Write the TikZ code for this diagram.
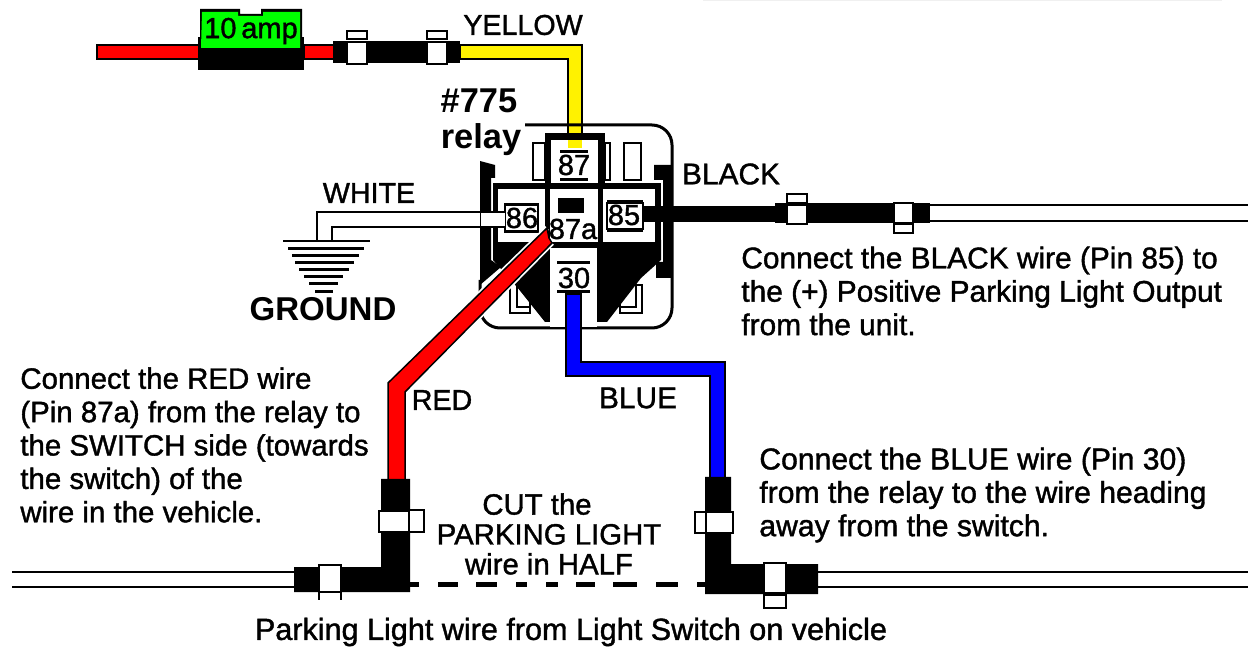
\documentclass[tikz,border=0pt]{standalone}
\usepackage{fontspec}
\setmainfont{Liberation Sans}
\newfontfamily\wirefont[FakeBold=1.3]{Liberation Sans}
\usetikzlibrary{calc}
\def\crimpbox(#1,#2)(#3,#4){\draw[fill=white,line width=0.4mm] (#1,#2) rectangle (#3,#4);}
\def\pinbars(#1,#2)(#3,#4){\draw[fill=black,draw=none] (#1,#2) rectangle (#3,#2+3); \draw[fill=black,draw=none] (#1,#4-3) rectangle (#3,#4);}
\tikzset{
	wiretext/.style={font=\wirefont\fontsize{17}{19}\selectfont,inner sep=0pt},
	smalltext/.style={font=\wirefont\fontsize{16.3}{19}\selectfont,inner sep=0pt},
	notetext/.style={wiretext,align=left,anchor=west},
	pintext/.style={font=\wirefont\fontsize{16.5}{19}\selectfont,inner sep=0pt},
	heavytext/.style={font=\fontsize{19.6}{19}\selectfont\bfseries,inner sep=0pt},
}

\begin{document}
\begin{tikzpicture}[x=0.02cm,y=-0.02cm]
			\useasboundingbox (0,0) rectangle (1248,648);
			\draw[black!6,line width=0.3mm] (703,0.5) -- (1222,0.5);
			%%%%% FUSE LINE %%%%%
			\draw[fill=red,line width=0.3mm] (97,45) rectangle (200,59);
			\draw[fill=red,line width=0.3mm] (304,45) rectangle (335,59);
			\fill (198,37) rectangle (304,70);
			\fill (200,9) -- (240,9) -- (240,14) -- (261,14) -- (261,9) -- (302,9) -- (302,40) -- (200,40) -- cycle;
			\fill[green] (202,12) -- (238,12) -- (238,16) -- (263,16) -- (263,12) -- (300,12) -- (300,48) -- (201,48) -- cycle;
			\node[pintext,font=\wirefont\fontsize{16.5}{19}\selectfont] (fuselabel) at (251,31) {10\,amp};
			\fill (333,41) rectangle (460,63);
			\crimpbox(347,42)(367,64)
			\crimpbox(347,31)(367,39)
			\crimpbox(427,42)(447,64)
			\crimpbox(427,31)(447,39)
			\draw[fill=yellow,line width=0.3mm] (460,45) -- (582,45) -- (582,148) -- (568,148) -- (568,59) -- (460,59) -- cycle;

			%%%%% RELAY %%%%%
			\draw[line width=0.6mm,rounded corners=4mm] (525,125) -- (672,125) -- (672,328) -- (480,328) -- (480,280);
			\draw[line width=0.4mm] (533,143) rectangle (545,180);
			\draw[line width=0.4mm] (605,143) rectangle (610,180);
			\draw[line width=0.4mm] (624,143) rectangle (641,180);
			\fill (480,161) -- (495,165) -- (495,178) -- (491,178) -- (491,260) -- (501,267) -- (480,285) -- cycle;
			\fill (654,165) -- (672,165) -- (672,278) -- (656,278) -- (656,262) -- (663,262) -- (663,180) -- (654,180) -- cycle;
			\draw[line width=0.4mm] (510,283) rectangle (530,313);
			\draw[line width=0.4mm] (517,283) -- (517,307) -- (530,307);
			\draw[line width=0.4mm] (620,285) rectangle (642,313);
			\draw[line width=0.4mm] (636,285) -- (636,307) -- (620,307);
			\fill (545,133) rectangle (605,140);
			\fill (545,133) rectangle (551,183);
			\fill (598,133) rectangle (605,183);
			\fill (493,183) rectangle (661,189);
			\fill (493,183) rectangle (498,260);
			\fill (655,183) rectangle (661,260);
			\fill (493,240) -- (661,240) -- (661,260) -- (641,278) -- (607,322) -- (545,322) -- (517,287) -- (493,260) -- cycle;
			\fill (545,189) rectangle (550,242);
			\fill (598,189) rectangle (603,242);
			\fill[white] (551,140) rectangle (598,183);
			\fill[white] (498,189) rectangle (545,242);
			\fill[white] (603,189) rectangle (655,242);
			\fill[white] (550,189) rectangle (598,242);
			\fill[white] (550,248) rectangle (597,327);
			\fill (558,198) rectangle (584,213);

			\pinbars(560,150)(588,181)
			\node[pintext] (pin87) at (574,165) {87};
			\draw[fill=white,line width=0.4mm] (505,204) rectangle (538,232);
			\pinbars(505,203)(538,233)
			\node[pintext] (pin86) at (522,218) {86};
			\pinbars(607,200)(643,232)
			\draw[line width=0.4mm] (607,203) rectangle (643,229);
			\node[pintext] (pin85) at (624,215) {85};
			\node[pintext] (pin87a) at (573,229) {87a};
			\pinbars(557,261)(590,293)
			\node[pintext] (pin30) at (574,278) {30};
			\draw[fill=yellow,line width=0.3mm,draw=none] (568,140) rectangle (582,148);

			%%%%% WHITE WIRE AND GROUND %%%%%
			\draw[line width=0.4mm] (505,212) -- (317,212) -- (317,241);
			\draw[line width=0.4mm] (505,227) -- (332,227) -- (332,241);
			\fill[white] (480.5,213) rectangle (505,226);
			\fill (283,240) rectangle (370,242.5);
			\fill (288,247) rectangle (364,250);
			\fill (292,254) rectangle (359,257);
			\fill (295,261) rectangle (354,264);
			\fill (299,268) rectangle (349,271);
			\fill (304,275.5) rectangle (343,278.5);
			\fill (309,282.5) rectangle (338,285.5);
			\fill (315,290) rectangle (333,293);

			%%%%% BLACK WIRE %%%%%
			\fill (643,206) rectangle (775,222);
			\fill (775,203) rectangle (930,223);
			\crimpbox(787,205)(807,224)
			\crimpbox(787,194)(807,203)
			\crimpbox(894,203)(913,223)
			\crimpbox(894,224)(913,233)
			\draw[line width=0.4mm] (930,205) -- (1248,205);
			\draw[line width=0.4mm] (930,221) -- (1248,221);

			%%%%% RED AND BLUE WIRES %%%%%
			\draw[white,line width=1mm] (547,228) -- (388,383) -- (388,480) -- (405,480) -- (405,392) -- (552,243);
			\draw[fill=red,line width=0.3mm] (547,228) -- (388,383) -- (388,480) -- (405,480) -- (405,392) -- (552,243) -- (549,238) -- cycle;
			\draw[fill=blue,line width=0.3mm] (566,294) -- (581,294) -- (581,362) -- (725,362) -- (725,480) -- (710,480) -- (710,376) -- (566,376) -- cycle;

			%%%%% CUT WIRE %%%%%
			\draw[line width=0.4mm] (12,572) -- (294,572);
			\draw[line width=0.4mm] (12,587) -- (294,587);
			\fill (294,567) -- (381,567) -- (381,479) -- (410,479) -- (410,592) -- (294,592) -- cycle;
			\crimpbox(379,511)(409,532)
			\crimpbox(409,510)(424,532)
			\crimpbox(319,565)(341,592)
			\draw[line width=0.4mm] (319,592) -- (319,600);
			\draw[line width=0.4mm] (341,592) -- (341,600);
			\fill (705,477) -- (731,477) -- (731,564) -- (818,564) -- (818,594) -- (705,594) -- cycle;
			\crimpbox(706,512)(733,533)
			\crimpbox(695,512)(706,533)
			\crimpbox(764,563)(786,593)
			\crimpbox(764,595)(786,608)
			\draw[line width=0.4mm] (818,572) -- (1248,572);
			\draw[line width=0.4mm] (818,587) -- (1248,587);
			\foreach \a/\b in {410/419,438/458,476/497,516/527,546/558,576/595,613/637,656/678,697/705}
				\fill (\a,582) rectangle (\b,587);

			%%%%% TEXT %%%%%
			\node[smalltext] (yellowlabel) at (523,25) {YELLOW};
			\node[heavytext] (relaynum) at (479,101) {\#775};
			\node[heavytext] (relaylabel) at (481,140) {relay};
			\node[smalltext] (whitelabel) at (369,193) {WHITE};
			\node[wiretext] (blacklabel) at (731,174) {BLACK};
			\node[heavytext,font=\fontsize{18.8}{19}\selectfont\bfseries] (groundlabel) at (323,309) {GROUND};
			\node[smalltext] (redlabel) at (442,400) {RED};
			\node[wiretext] (bluelabel) at (638,398) {BLUE};
			\node[notetext] (blacknote) at (741,291) {Connect the BLACK wire (Pin 85) to\\the (+) Positive Parking Light Output\\from the unit.};
			\node[notetext,font=\wirefont\fontsize{16.75}{19}\selectfont] (rednote) at (20,445) {Connect the RED wire\\(Pin 87a) from the relay to\\the SWITCH side (towards\\the switch) of the\\wire in the vehicle.};
			\node[notetext,font=\wirefont\fontsize{17.15}{19}\selectfont] (bluenote) at (759,495) {Connect the BLUE wire (Pin 30)\\from the relay to the wire heading\\away from the switch.};
			\node[wiretext,align=center,font=\wirefont\fontsize{16.7}{17}\selectfont] (cutnote) at (549,534) {\hspace*{-0.48cm}CUT the\\PARKING LIGHT\\wire in HALF};
			\node[wiretext,font=\wirefont\fontsize{17.4}{19}\selectfont] (sidenote) at (571,632) {Parking Light wire from Light Switch on vehicle};
\end{tikzpicture}
\end{document}
